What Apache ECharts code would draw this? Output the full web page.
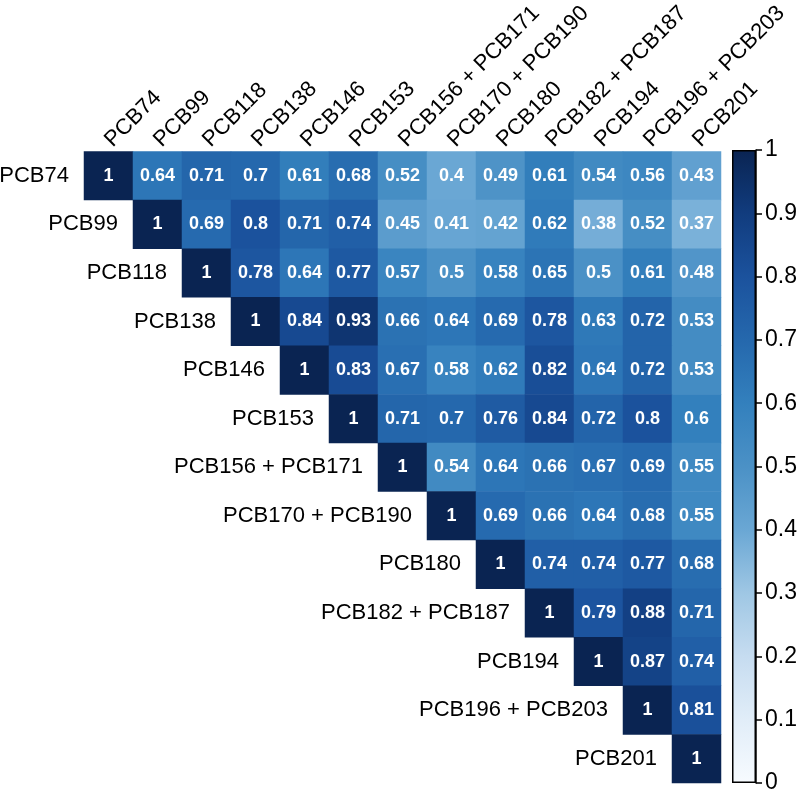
<!DOCTYPE html>
<html>
<head>
<meta charset="utf-8">
<style>html,body{margin:0;padding:0;background:#fff;}#chart{width:800px;height:795px;}</style>
<script src="https://cdn.jsdelivr.net/npm/echarts@6/dist/echarts.min.js"></script>
</head>
<body>
<div id="chart"></div>
<script>
const labels = ['PCB74','PCB99','PCB118','PCB138','PCB146','PCB153','PCB156 + PCB171','PCB170 + PCB190','PCB180','PCB182 + PCB187','PCB194','PCB196 + PCB203','PCB201'];
// upper-triangular rows, starting at the diagonal
const row0  = [1, 0.64, 0.71, 0.7, 0.61, 0.68, 0.52, 0.4, 0.49, 0.61, 0.54, 0.56, 0.43];
const row1  = [1, 0.69, 0.8, 0.71, 0.74, 0.45, 0.41, 0.42, 0.62, 0.38, 0.52, 0.37];
const row2  = [1, 0.78, 0.64, 0.77, 0.57, 0.5, 0.58, 0.65, 0.5, 0.61, 0.48];
const row3  = [1, 0.84, 0.93, 0.66, 0.64, 0.69, 0.78, 0.63, 0.72, 0.53];
const row4  = [1, 0.83, 0.67, 0.58, 0.62, 0.82, 0.64, 0.72, 0.53];
const row5  = [1, 0.71, 0.7, 0.76, 0.84, 0.72, 0.8, 0.6];
const row6  = [1, 0.54, 0.64, 0.66, 0.67, 0.69, 0.55];
const row7  = [1, 0.69, 0.66, 0.64, 0.68, 0.55];
const row8  = [1, 0.74, 0.74, 0.77, 0.68];
const row9  = [1, 0.79, 0.88, 0.71];
const row10 = [1, 0.87, 0.74];
const row11 = [1, 0.81];
const row12 = [1];
const rows = [row0,row1,row2,row3,row4,row5,row6,row7,row8,row9,row10,row11,row12];
const colorbarTicks = [0,0.1,0.2,0.3,0.4,0.5,0.6,0.7,0.8,0.9,1];

const palette = ['#f7fbff','#e1edf8','#c6dcf0','#9fc7e4','#6aa7d4','#4b91c6','#3380bd','#2568ad','#1b529d','#113c7e','#0a2452'];

const heat = [];
rows.forEach((r, i) => r.forEach((v, k) => heat.push([i + k, i, v])));
const rowLabelData = labels.map((l, i) => [i, i, l]);

const FONT = '"Liberation Sans", Arial, Helvetica, sans-serif';
const chart = echarts.init(document.getElementById('chart'), null, {renderer: 'canvas'});
chart.setOption({
  animation: false,
  backgroundColor: '#ffffff',
  textStyle: {fontFamily: FONT},
  grid: [
    {left: 84, top: 150, width: 637, height: 633},
    {left: 732, top: 150, width: 24, height: 633}
  ],
  xAxis: [
    {type: 'category', gridIndex: 0, data: labels, position: 'top',
     axisLine: {show: false}, axisTick: {show: false}, splitLine: {show: false},
     axisLabel: {interval: 0, rotate: -45, fontSize: 22, color: '#000', margin: 8, fontFamily: FONT}},
    {type: 'category', gridIndex: 1, data: [''], show: false}
  ],
  yAxis: [
    {type: 'category', gridIndex: 0, data: labels, inverse: true, show: false},
    {type: 'value', gridIndex: 1, min: 0, max: 1, interval: 0.1, position: 'right',
     axisLine: {show: true, lineStyle: {color: '#000', width: 1.5}},
     axisTick: {show: true, length: 6, lineStyle: {color: '#000', width: 1.5}},
     splitLine: {show: false},
     axisLabel: {fontSize: 23, color: '#000', margin: 9, fontFamily: FONT,
       formatter: v => String(+v.toFixed(1))}}
  ],
  visualMap: {
    show: false, type: 'continuous', min: 0, max: 1, seriesIndex: 0,
    inRange: {color: palette}
  },
  series: [
    {type: 'heatmap', xAxisIndex: 0, yAxisIndex: 0, data: heat,
     label: {show: true, color: '#fff', fontWeight: 'bold', fontSize: 18, fontFamily: FONT,
       formatter: p => String(p.value[2])},
     emphasis: {disabled: true}},
    {type: 'custom', xAxisIndex: 0, yAxisIndex: 0, data: rowLabelData, silent: true,
     renderItem: (params, api) => {
       const pt = api.coord([api.value(0), api.value(1)]);
       const sz = api.size([1, 1]);
       return {type: 'text', x: pt[0] - sz[0] / 2 - 15, y: pt[1],
         style: {text: labels[params.dataIndex], fill: '#000', font: '22px ' + FONT,
           textAlign: 'right', textVerticalAlign: 'middle'}};
     }},
    {type: 'bar', xAxisIndex: 1, yAxisIndex: 1, data: [1], barWidth: '100%', silent: true,
     itemStyle: {borderColor: '#000', borderWidth: 1.5,
       color: new echarts.graphic.LinearGradient(0, 0, 0, 1,
         palette.slice().reverse().map((c, i) => ({offset: i / (palette.length - 1), color: c})))}}
  ]
});
</script>
</body>
</html>
